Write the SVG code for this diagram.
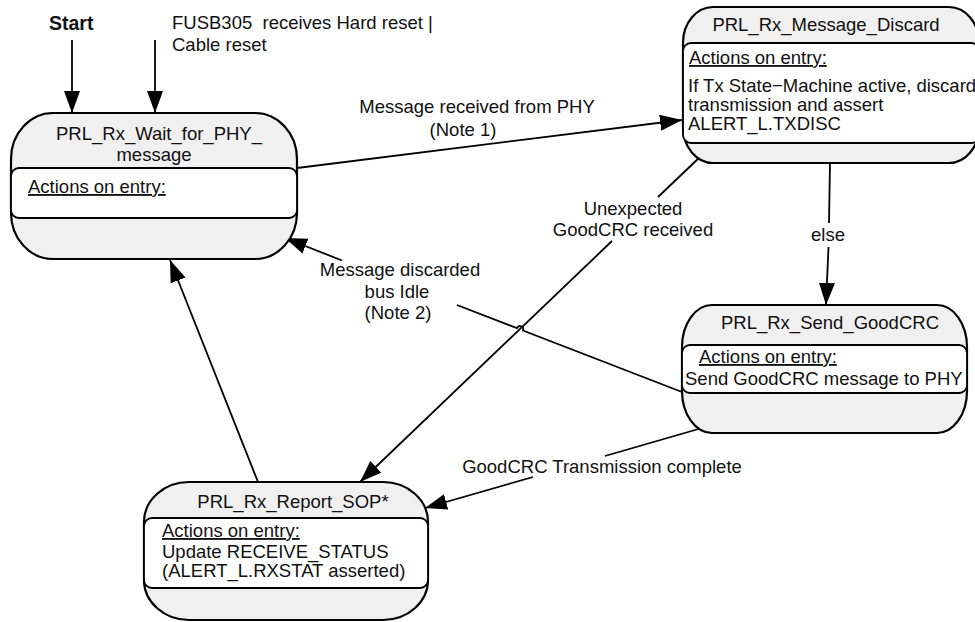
<svg xmlns="http://www.w3.org/2000/svg" width="975" height="622" viewBox="0 0 975 622">
<style>
.outer{fill:#f0f0f0;stroke:#000;stroke-width:2.2}
.inner{fill:#fff;stroke:#000;stroke-width:1.8}
text{font-family:"Liberation Sans",Arial,sans-serif;font-size:18.5px;fill:#111}
.c{text-anchor:middle}
.b{font-weight:bold;font-size:19.5px}
.u{text-decoration:underline}
.ln{fill:none;stroke:#000;stroke-width:1.8}
</style>
<defs>
<marker id="ah" markerUnits="userSpaceOnUse" markerWidth="22" markerHeight="16" refX="22" refY="8" orient="auto">
<path d="M0,0 L22,8 L0,16 z" fill="#000"/>
</marker>
</defs>
<rect width="975" height="622" fill="#fff"/>

<g id="labels-top">
<text class="b" x="49" y="30">Start</text>
<text x="172" y="29">FUSB305&#160; receives Hard reset |</text>
<text x="172" y="51">Cable reset</text>
</g>

<g id="connectors">
<line class="ln" x1="72" y1="40" x2="72" y2="113" marker-end="url(#ah)"/>
<line class="ln" x1="155" y1="40" x2="155" y2="113" marker-end="url(#ah)"/>
<line class="ln" x1="297" y1="168" x2="682" y2="120" marker-end="url(#ah)"/>
<line class="ln" x1="700" y1="157" x2="658" y2="197"/>
<line class="ln" x1="612" y1="241" x2="360" y2="482" marker-end="url(#ah)"/>
<path class="ln" d="M682,392 L523,330.5 A3,3 0 0 0 517,328.2 L457,305"/>
<line class="ln" x1="342" y1="260.5" x2="285" y2="238" marker-end="url(#ah)"/>
<line class="ln" x1="830" y1="163" x2="829" y2="223"/>
<line class="ln" x1="828.5" y1="247" x2="826" y2="305" marker-end="url(#ah)"/>
<line class="ln" x1="702" y1="428" x2="605" y2="456"/>
<line class="ln" x1="533" y1="477" x2="425" y2="508" marker-end="url(#ah)"/>
<line class="ln" x1="258" y1="482" x2="170" y2="260" marker-end="url(#ah)"/>
</g>

<g id="connector-labels">
<text class="c" x="477" y="113">Message received from PHY</text>
<text class="c" x="463" y="136">(Note 1)</text>
<text class="c" x="633" y="215">Unexpected</text>
<text class="c" x="633" y="236">GoodCRC received</text>
<text class="c" x="400" y="276">Message discarded</text>
<text class="c" x="397" y="298">bus Idle</text>
<text class="c" x="398" y="319">(Note 2)</text>
<text class="c" x="828" y="241">else</text>
<text class="c" x="602" y="473">GoodCRC Transmission complete</text>
</g>

<g id="wait-for-phy">
<rect class="outer" x="11" y="113" width="286" height="146" rx="42" ry="46"/>
<rect class="inner" x="11" y="168" width="286" height="50" rx="8"/>
<text class="c" x="159" y="140">PRL_Rx_Wait_for_PHY_</text>
<text class="c" x="154" y="161">message</text>
<text class="u" x="28" y="193">Actions on entry:</text>
</g>

<g id="message-discard">
<rect class="outer" x="683" y="7" width="296" height="156" rx="30" ry="36"/>
<rect class="inner" x="683" y="43" width="296" height="100" rx="8"/>
<text class="c" x="826" y="31">PRL_Rx_Message_Discard</text>
<text class="u" x="689" y="64">Actions on entry:</text>
<text x="688" y="92">If Tx State−Machine active, discard</text>
<text x="688" y="111">transmission and assert</text>
<text x="688" y="130">ALERT_L.TXDISC</text>
</g>

<g id="send-goodcrc">
<rect class="outer" x="682" y="305" width="285" height="128" rx="30" ry="42"/>
<rect class="inner" x="682" y="345" width="285" height="48" rx="8"/>
<text class="c" x="830" y="329">PRL_Rx_Send_GoodCRC</text>
<text class="u" x="699" y="363">Actions on entry:</text>
<text x="685" y="385">Send GoodCRC message to PHY</text>
</g>

<g id="report-sop">
<rect class="outer" x="144" y="482" width="284" height="138" rx="45" ry="40"/>
<rect class="inner" x="144" y="518" width="284" height="70" rx="8"/>
<text class="c" x="293" y="508">PRL_Rx_Report_SOP*</text>
<text class="u" x="162" y="537">Actions on entry:</text>
<text x="162" y="558">Update RECEIVE_STATUS</text>
<text x="162" y="577">(ALERT_L.RXSTAT asserted)</text>
</g>
</svg>
